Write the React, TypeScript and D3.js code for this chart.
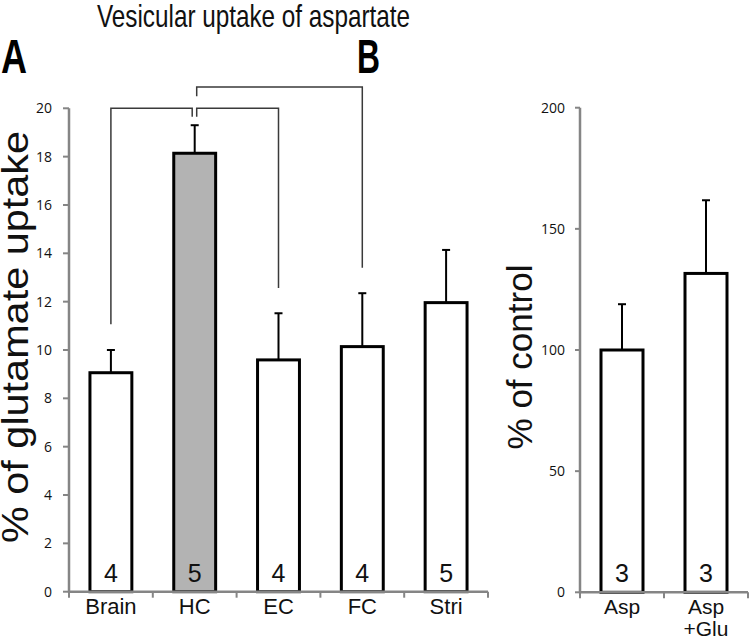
import React from "react";
import * as d3 from "d3";

const categoriesA = ["Brain", "HC", "EC", "FC", "Stri"];
const valuesA = [9.06, 18.14, 9.59, 10.14, 11.96];
const errorsA = [0.94, 1.16, 1.93, 2.21, 2.18];
const countsA = ["4", "5", "4", "4", "5"];
const ticksA = [0, 2, 4, 6, 8, 10, 12, 14, 16, 18, 20];

const categoriesB = [["Asp"], ["Asp", "+Glu"]];
const keysB = ["Asp", "Asp+Glu"];
const valuesB = [100, 131.6];
const errorsB = [18.9, 30.2];
const countsB = ["3", "3"];
const ticksB = [0, 50, 100, 150, 200];

// significance brackets: [from, to, level, fromLegEnd, toLegEnd, fromOffset, toOffset]
const brackets: [string, string, number, number, number, number, number][] = [
  ["HC", "FC", 20.88, 20.5, 13.4, 2, 0],
  ["Brain", "HC", 20.0, 11.07, 19.65, 0, -2.5],
  ["HC", "EC", 20.0, 19.65, 12.56, 2, 0],
];

const SANS = "'Liberation Sans', Arial, sans-serif";
const TICKFONT = "'Open Sans', 'Noto Sans', sans-serif";
const AXIS = "#858585";

export default function App() {
  const xA = d3.scaleBand<string>().domain(categoriesA).range([69, 488]).paddingInner(0.5).paddingOuter(0.25);
  const yA = d3.scaleLinear().domain([0, 20]).range([591.7, 108.3]);
  const stepA = xA.step();
  const xB = d3.scaleBand<string>().domain(keysB).range([580, 748]).paddingInner(0.5).paddingOuter(0.25);
  const yB = d3.scaleLinear().domain([0, 200]).range([592.3, 107.7]);
  const stepB = xB.step();

  const cA = (c: string) => (xA(c) as number) + xA.bandwidth() / 2;
  const cB = (c: string) => (xB(c) as number) + xB.bandwidth() / 2;

  return (
    <svg width={750} height={638} style={{ position: "absolute", left: 0, top: 0, background: "#fff" }}>
      <rect x={0} y={0} width={750} height={638} fill="#fff" />
      <text x={97} y={27} fontFamily={SANS} fontSize={32} textLength={313} lengthAdjust="spacingAndGlyphs" fill="#111">
        Vesicular uptake of aspartate
      </text>
      <text x={1} y={73} fontFamily={SANS} fontWeight="bold" fontSize={48} textLength={26} lengthAdjust="spacingAndGlyphs" fill="#000">A</text>
      <text x={357} y={73} fontFamily={SANS} fontWeight="bold" fontSize={48} textLength={23} lengthAdjust="spacingAndGlyphs" fill="#000">B</text>

      <text transform="translate(28,337) rotate(-90)" textAnchor="middle" fontFamily={SANS} fontSize={37} textLength={412} lengthAdjust="spacingAndGlyphs" fill="#111">% of glutamate uptake</text>
      <text transform="translate(532,357) rotate(-90)" textAnchor="middle" fontFamily={SANS} fontSize={35} textLength={185} lengthAdjust="spacingAndGlyphs" fill="#111">% of control</text>

      {categoriesA.map((c, i) => (
        <g key={c}>
          <line x1={cA(c)} x2={cA(c)} y1={yA(valuesA[i])} y2={yA(valuesA[i] + errorsA[i])} stroke="#000" strokeWidth={2} />
          <line x1={cA(c) - 4} x2={cA(c) + 4} y1={yA(valuesA[i] + errorsA[i])} y2={yA(valuesA[i] + errorsA[i])} stroke="#000" strokeWidth={2} />
          <rect x={xA(c)} y={yA(valuesA[i])} width={xA.bandwidth()} height={yA(0) - yA(valuesA[i])} fill={c === "HC" ? "#b3b3b3" : "#fff"} stroke="#000" strokeWidth={3} />
          <text x={cA(c)} y={582} textAnchor="middle" fontFamily={SANS} fontSize={25} fill="#111">{countsA[i]}</text>
          <text x={cA(c)} y={614} textAnchor="middle" fontFamily={SANS} fontSize={22} fill="#111">{c}</text>
        </g>
      ))}

      {brackets.map(([a, b, lvl, la, lb, oa, ob], i) => {
        const x1 = cA(a) + oa;
        const x2 = cA(b) + ob;
        return (
          <path key={i} d={`M${x1},${yA(la)}V${yA(lvl)}H${x2}V${yA(lb)}`} fill="none" stroke="#3a3a3a" strokeWidth={1.5} />
        );
      })}

      <line x1={69} x2={69} y1={yA(20)} y2={yA(0) + 1} stroke={AXIS} strokeWidth={2.5} />
      {ticksA.map((t) => (
        <g key={t}>
          <line x1={63} x2={69} y1={yA(t)} y2={yA(t)} stroke={AXIS} strokeWidth={2} />
          <text x={52} y={yA(t)} dy="0.36em" textAnchor="end" fontFamily={TICKFONT} fontSize={14} fill="#111">{t}</text>
        </g>
      ))}
      <line x1={68} x2={488} y1={yA(0)} y2={yA(0)} stroke={AXIS} strokeWidth={2.5} />
      {d3.range(categoriesA.length + 1).map((i) => (
        <line key={i} x1={69 + i * stepA} x2={69 + i * stepA} y1={yA(0)} y2={yA(0) + 6} stroke={AXIS} strokeWidth={2} />
      ))}

      {keysB.map((c, i) => (
        <g key={c}>
          <line x1={cB(c)} x2={cB(c)} y1={yB(valuesB[i])} y2={yB(valuesB[i] + errorsB[i])} stroke="#000" strokeWidth={2} />
          <line x1={cB(c) - 4} x2={cB(c) + 4} y1={yB(valuesB[i] + errorsB[i])} y2={yB(valuesB[i] + errorsB[i])} stroke="#000" strokeWidth={2} />
          <rect x={xB(c)} y={yB(valuesB[i])} width={xB.bandwidth()} height={yB(0) - yB(valuesB[i])} fill="#fff" stroke="#000" strokeWidth={3} />
          <text x={cB(c)} y={582} textAnchor="middle" fontFamily={SANS} fontSize={25} fill="#111">{countsB[i]}</text>
          {categoriesB[i].map((line, j) => (
            <text key={j} x={cB(c)} y={614 + j * 22} textAnchor="middle" fontFamily={SANS} fontSize={21} fill="#111">{line}</text>
          ))}
        </g>
      ))}

      <line x1={580} x2={580} y1={yB(200)} y2={yB(0) + 1} stroke={AXIS} strokeWidth={2.5} />
      {ticksB.map((t) => (
        <g key={t}>
          <line x1={575} x2={580} y1={yB(t)} y2={yB(t)} stroke={AXIS} strokeWidth={2} />
          <text x={565} y={yB(t)} dy="0.36em" textAnchor="end" fontFamily={TICKFONT} fontSize={14} fill="#111">{t}</text>
        </g>
      ))}
      <line x1={579} x2={748} y1={yB(0)} y2={yB(0)} stroke={AXIS} strokeWidth={2.5} />
      {d3.range(keysB.length + 1).map((i) => (
        <line key={i} x1={580 + i * stepB} x2={580 + i * stepB} y1={yB(0)} y2={yB(0) + 6} stroke={AXIS} strokeWidth={2} />
      ))}
    </svg>
  );
}
